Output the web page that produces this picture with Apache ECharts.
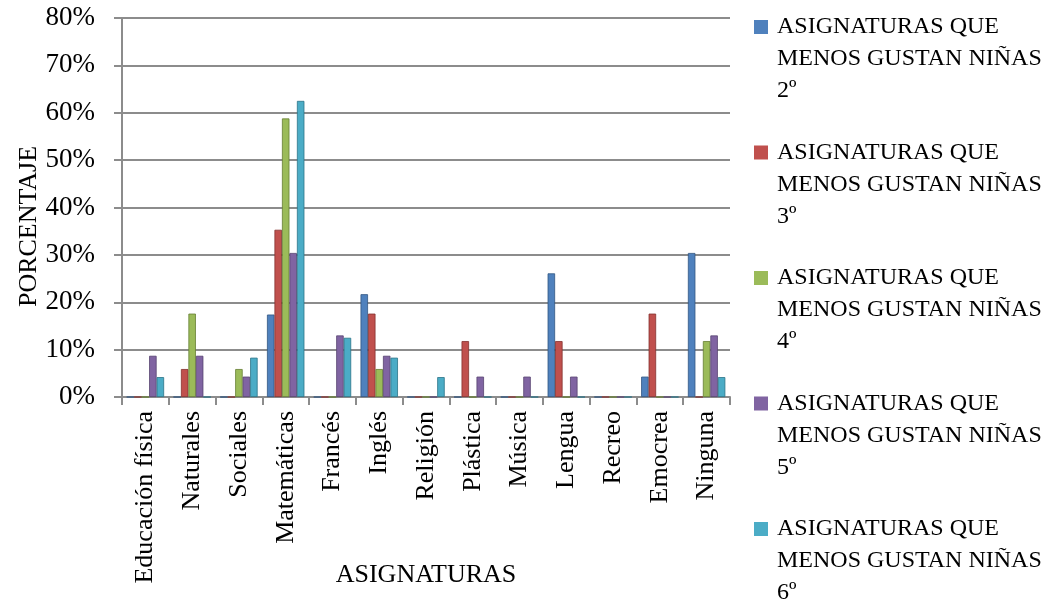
<!DOCTYPE html>
<html><head><meta charset="utf-8">
<script src="https://cdn.jsdelivr.net/npm/echarts@6/dist/echarts.min.js"></script>
<style>html,body{margin:0;padding:0;background:#fff}#c{width:1049px;height:599px}</style>
</head><body><div id="c"></div>
<script>
const categories = ['Educación física','Naturales','Sociales','Matemáticas','Francés','Inglés','Religión','Plástica','Música','Lengua','Recreo','Emocrea','Ninguna'];
const seriesNames = ['ASIGNATURAS QUE MENOS GUSTAN NIÑAS 2º','ASIGNATURAS QUE MENOS GUSTAN NIÑAS 3º','ASIGNATURAS QUE MENOS GUSTAN NIÑAS 4º','ASIGNATURAS QUE MENOS GUSTAN NIÑAS 5º','ASIGNATURAS QUE MENOS GUSTAN NIÑAS 6º'];
const nin2 = [0, 0, 0, 17.4, 0, 21.7, 0, 0, 0, 26.1, 0, 4.3, 30.4];
const nin3 = [0, 5.9, 0, 35.3, 0, 17.6, 0, 11.8, 0, 11.8, 0, 17.6, 0];
const nin4 = [0, 17.6, 5.9, 58.8, 0, 5.9, 0, 0, 0, 0, 0, 0, 11.8];
const nin5 = [8.7, 8.7, 4.3, 30.4, 13.0, 8.7, 0, 4.3, 4.3, 4.3, 0, 0, 13.0];
const nin6 = [4.2, 0, 8.3, 62.5, 12.5, 8.3, 4.2, 0, 0, 0, 0, 0, 4.2];
const colors = ['#4F81BD','#C0504D','#9BBB59','#8064A2','#4BACC6'];

const font = 'Liberation Serif';
const allData = [nin2, nin3, nin4, nin5, nin6];
const fmtLegend = n => n.replace(' MENOS', '\nMENOS').replace(/ (\dº)$/, '\n$1');
const chart = echarts.init(document.getElementById('c'));
chart.setOption({
  animation: false,
  color: colors,
  grid: {left: 122, right: 319, top: 18, bottom: 202, containLabel: false, outerBoundsMode: 'none'},
  legend: seriesNames.map((n, i) => ({
    data: [n], orient: 'vertical', left: 754, top: 11 + i * 125.5, padding: 0,
    itemWidth: 14, itemHeight: 96,
    icon: 'path://M0,0h0.01 M0,9h14v14h-14z M0,96h0.01',
    itemStyle: {borderWidth: 0},
    formatter: fmtLegend,
    textStyle: {fontFamily: font, fontSize: 24, lineHeight: 32, color: '#000', padding: [0,0,0,4]}
  })),
  xAxis: {
    type: 'category', data: categories,
    name: 'ASIGNATURAS', nameLocation: 'middle', nameGap: 165, nameMoveOverlap: false,
    nameTextStyle: {fontFamily: font, fontSize: 26, color: '#000'},
    axisLine: {lineStyle: {color: '#8c8c8c', width: 2}},
    axisTick: {show: true, length: 8, lineStyle: {color: '#8c8c8c', width: 2}},
    axisLabel: {rotate: 90, fontFamily: font, fontSize: 26, color: '#000', margin: 14}
  },
  yAxis: {
    type: 'value', min: 0, max: 80, interval: 10,
    name: 'PORCENTAJE', nameLocation: 'middle', nameGap: 80, nameRotate: 90, nameMoveOverlap: false,
    nameTextStyle: {fontFamily: font, fontSize: 26, color: '#000', padding: [0, 38, 0, 0]},
    axisLine: {show: true, lineStyle: {color: '#8c8c8c', width: 2}},
    axisTick: {show: true, length: 8, lineStyle: {color: '#8c8c8c', width: 2}},
    axisLabel: {fontFamily: font, fontSize: 27, color: '#000', margin: 27, formatter: v => v + '%'},
    splitLine: {lineStyle: {color: '#8c8c8c', width: 2}}
  },
  series: allData.map((d, i) => ({
    name: seriesNames[i], type: 'bar', data: d,
    barGap: '0%', barCategoryGap: '20%',
    itemStyle: {color: colors[i], borderColor: echarts.color.modifyHSL(colors[i], null, null, 0.35), borderWidth: 0.8}
  }))
});
</script></body></html>
